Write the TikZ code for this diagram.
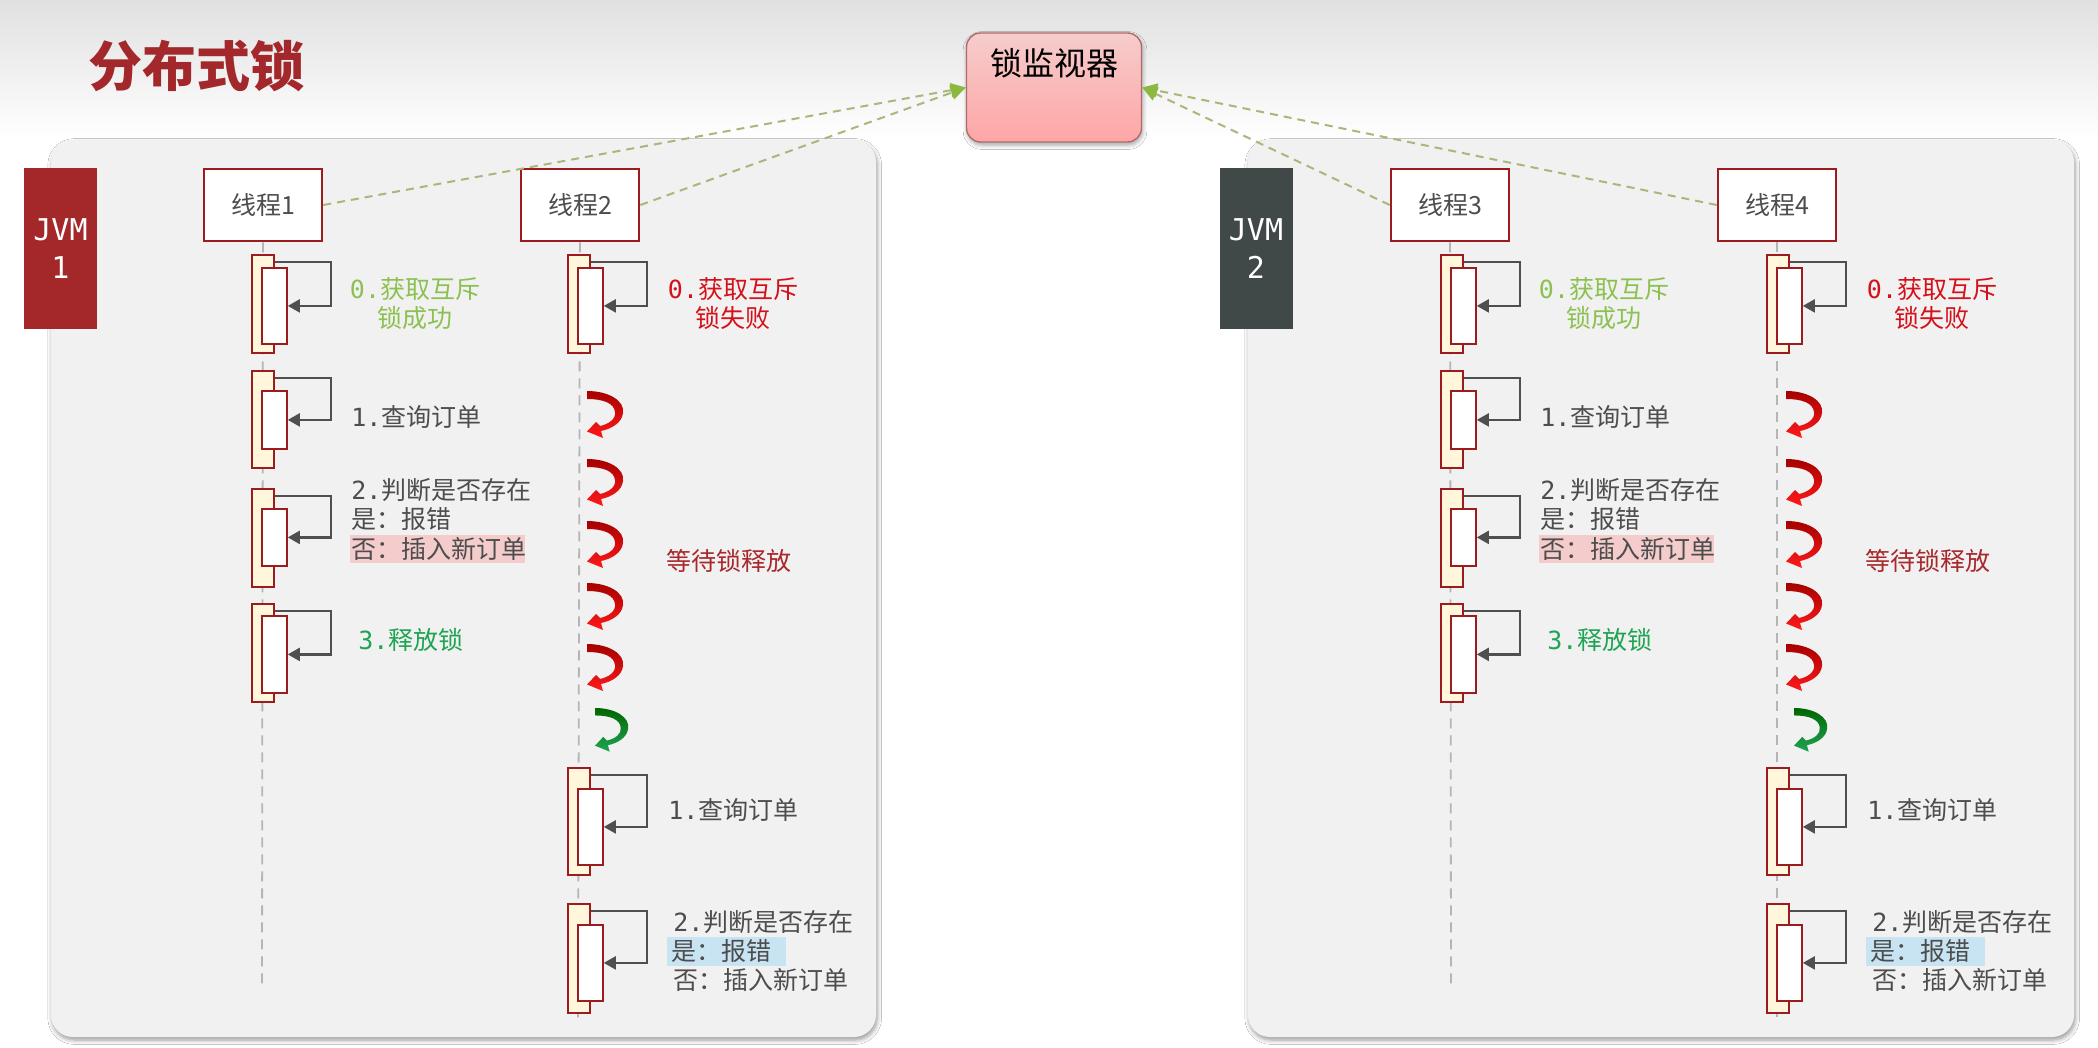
\documentclass[tikz,border=0pt]{standalone}
\usepackage{fontspec}
\setmainfont{Noto Sans CJK SC}
\newfontfamily\mono{DejaVu Sans Mono}
\usetikzlibrary{arrows.meta,shadows.blur,calc}
\definecolor{dred}{HTML}{9B1B1E}
\definecolor{cream}{HTML}{FFF6DC}
\definecolor{lgreen}{HTML}{8CC152}
\definecolor{mgreen}{HTML}{1FA453}
\definecolor{fred}{HTML}{D4111B}
\definecolor{wred}{HTML}{A8282C}
\definecolor{titlered}{HTML}{A3282B}
\definecolor{jvmred}{HTML}{A4272A}
\definecolor{jvmgray}{HTML}{414848}
\definecolor{pinkhl}{HTML}{F4CCCC}
\definecolor{bluehl}{HTML}{C8E4F2}
\definecolor{linkc}{HTML}{A9B77A}
\definecolor{tipgreen}{HTML}{8DB83E}
\definecolor{panelc}{HTML}{F1F1F1}
\definecolor{txtgray}{HTML}{4D4D4D}
\definecolor{selfc}{HTML}{4F4F4F}
\definecolor{lifec}{HTML}{B5B5B5}
\definecolor{montop}{HTML}{F6CCCC}
\definecolor{monbot}{HTML}{FEA6A6}
\definecolor{monborder}{HTML}{B06A6A}
\newcommand\actbox[6]{%
  \pgfmathsetmacro\ohgt{(#4-#3)*0.5}%
  \pgfmathsetmacro\ihgt{(#6-#5)*0.5}%
  \node[actout,minimum height=\ohgt pt] (#1o) at ({#2-11},#3) {};%
  \node[actin,minimum height=\ihgt pt] (#1i) at ({#2-1},#5) {};%
  \draw[selfarr] ([yshift=-4pt]#1o.north east) -- ++(56,0) |- (#1i.east);%
}
\newcommand\curvarrow[3]{%
  \shade[#1,shift={(#2,#3)}] (0,0) .. controls (22,0) and (38,10) .. (36,22) .. controls (35,32) and (24,38) .. (14,40) -- (16,47) -- (0,40.5) -- (9,31) -- (13,35) .. controls (22,33) and (29,28) .. (28,21) .. controls (27,12) and (16,8) .. (0,8) -- cycle;%
}
\newcommand\threadA[3]{% prefix, L, lifeline end
  \coordinate (#1end) at (#2,#3);
  \draw[lifeline] (#1t) -- (#1end);
  \actbox{#1a1}{#2}{254}{352}{267}{343}
  \actbox{#1a2}{#2}{370}{467}{390}{448}
  \actbox{#1a3}{#2}{488}{586}{508}{565}
  \actbox{#1a4}{#2}{603}{701}{615}{692}
  \node[steptxt,text=lgreen,align=center,anchor=center] (#1l1) at ({#2+153},304) {{\mono 0.}获取互斥\\锁成功};
  \node[steptxt] (#1l2) at ({#2+89},417) {{\mono 1.}查询订单};
  \fill[pinkhl] ({#2+88},535) rectangle ({#2+263},563);
  \node[steptxt] (#1l3a) at ({#2+89},490) {{\mono 2.}判断是否存在};
  \node[steptxt] (#1l3b) at ({#2+89},519) {是：报错};
  \node[steptxt] (#1l3c) at ({#2+89},549) {否：插入新订单};
  \node[steptxt,text=mgreen] (#1l4) at ({#2+96},640) {{\mono 3.}释放锁};
}
\newcommand\threadB[3]{%
  \coordinate (#1end) at (#2,#3);
  \draw[lifeline] (#1t) -- (#1end);
  \actbox{#1b1}{#2}{254}{352}{267}{343}
  \node[steptxt,text=fred,align=center,anchor=center] (#1m1) at ({#2+155},304) {{\mono 0.}获取互斥\\锁失败};
  \curvarrow{redarr}{#2+9}{391}
  \curvarrow{redarr}{#2+9}{459}
  \curvarrow{redarr}{#2+9}{521}
  \curvarrow{redarr}{#2+9}{583}
  \curvarrow{redarr}{#2+9}{644}
  \begin{scope}[shift={({#2+17},708)},xscale=0.92,yscale=0.93]
    \curvarrow{grnarr}{0}{0}
  \end{scope}
  \node[steptxt,text=wred] (#1wait) at ({#2+88},561) {等待锁释放};
  \actbox{#1b2}{#2}{767}{874}{788}{864}
  \node[steptxt] (#1m2) at ({#2+90},810) {{\mono 1.}查询订单};
  \actbox{#1b3}{#2}{903}{1012}{924}{1000}
  \fill[bluehl] ({#2+89},937) rectangle ({#2+208},966);
  \node[steptxt] (#1m3a) at ({#2+95},922) {{\mono 2.}判断是否存在};
  \node[steptxt] (#1m3b) at ({#2+93},951) {是：报错};
  \node[steptxt] (#1m3c) at ({#2+95},980) {否：插入新订单};
}
\begin{document}
\begin{tikzpicture}[x=0.5pt,y=-0.5pt,
  panel/.style={fill=panelc,rounded corners=11pt,blur shadow={shadow blur steps=6,shadow xshift=0.6pt,shadow yshift=-1.5pt,shadow opacity=40}},
  jvm/.style={minimum width=36.5pt,minimum height=80.5pt,inner sep=0pt,text=white,align=center,font=\mono\fontsize{15}{19}\selectfont},
  thread/.style={draw=dred,line width=1.3pt,fill=white,minimum width=59pt,minimum height=36pt,inner sep=0pt,text=txtgray,font=\fontsize{12.5}{12.5}\selectfont},
  lifeline/.style={draw=lifec,line width=0.9pt,dash pattern=on 5pt off 3.5pt},
  actout/.style={draw=dred,fill=cream,line width=0.9pt,anchor=north west,minimum width=11pt,inner sep=0pt},
  actin/.style={draw=dred,fill=white,line width=0.9pt,anchor=north west,minimum width=12.5pt,inner sep=0pt},
  selfarr/.style={draw=selfc,line width=1.1pt,-{Triangle[length=6pt,width=6.5pt]}},
  steptxt/.style={inner sep=0pt,anchor=west,text=txtgray,font=\fontsize{12.5}{14.5}\selectfont},
  redarr/.style={top color=red!65!black,bottom color=red!90!white},
  grnarr/.style={top color=green!40!black,bottom color=mgreen},
  link/.style={draw=linkc,line width=1pt,dash pattern=on 4pt off 3pt,-{Triangle[length=7.5pt,width=7pt,color=tipgreen,fill=tipgreen]}},
  monitor/.style={draw=monborder,line width=0.7pt,rounded corners=7pt,top color=montop,bottom color=monbot,minimum width=87.5pt,minimum height=54.5pt,inner sep=0pt,blur shadow={shadow blur steps=5,shadow xshift=0.5pt,shadow yshift=-1.5pt,shadow opacity=35}}
]
\useasboundingbox (0,0) rectangle (2098,1048);
\fill[white] (0,0) rectangle (2098,1048);
\shade[top color=black!12,bottom color=white] (0,0) rectangle (2098,140);
% title
\node[font=\fontsize{27}{27}\selectfont\bfseries,text=titlered,inner sep=0pt] (title) at (196,66) {分布式锁};
% panels
\fill[panel] (51,140) rectangle (876,1037);
\fill[panel] (1248,140) rectangle (2074,1037);
% JVM labels
\node[jvm,fill=jvmred] (jvm1) at (60.5,248.5) {JVM\\1};
\node[jvm,fill=jvmgray] (jvm2) at (1256,248.5) {JVM\\2};
% threads
\node[thread] (Lt) at (263,205) {线程1};
\node[thread] (Mt) at (580,205) {线程2};
\node[thread] (Rt) at (1450,205) {线程3};
\node[thread] (St) at (1777,205) {线程4};
\threadA{L}{262}{990}
\threadB{M}{578}{1018}
\threadA{R}{1451}{990}
\threadB{S}{1777}{1018}
% monitor
\node[monitor] (mon) at (1054,87.5) {};
\node[font=\fontsize{16}{16}\selectfont,inner sep=0pt] (monlbl) at (1054,63) {锁监视器};
% links
\draw[link] (Lt.east) -- (mon.west);
\draw[link] (Mt.east) -- (mon.west);
\draw[link] (Rt.west) -- (mon.east);
\draw[link] (St.west) -- (mon.east);
\end{tikzpicture}
\end{document}
